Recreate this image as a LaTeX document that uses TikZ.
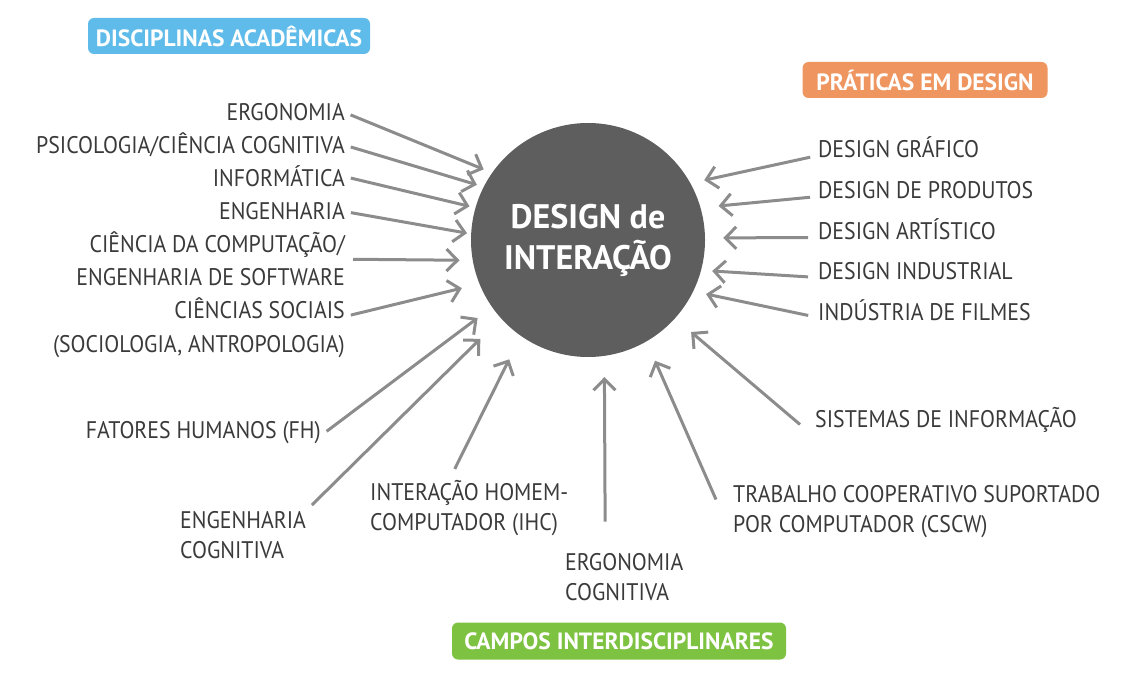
\documentclass[tikz,border=0pt]{standalone}
\usepackage{fontspec}
\setmainfont{PT Sans}[FakeStretch=0.91]
\newfontfamily\tagfont{PT Sans}
\usepackage{tikz}
\usetikzlibrary{arrows.meta,calc}
\definecolor{txtgray}{HTML}{3A3A3A}
\definecolor{arrowgray}{HTML}{8C8C8C}
\definecolor{dsggray}{HTML}{5E5E5E}
\definecolor{tagblue}{HTML}{5FBBE9}
\definecolor{tagorange}{HTML}{EF9660}
\definecolor{taggreen}{HTML}{7EC241}

\begin{document}
\begin{tikzpicture}[
      x=1pt, y=-1pt,
      lbl/.style={inner sep=0pt, text=txtgray, font=\fontsize{24}{30}\selectfont},
      lblr/.style={lbl, anchor=base east, align=right},
      lbll/.style={lbl, anchor=base west, align=left},
      tag/.style={rounded corners=6pt, text=white, font=\tagfont\bfseries\fontsize{23.5}{24}\selectfont, minimum height=36pt, inner sep=0pt},
      arrow/.style={draw=arrowgray, line width=3pt, -{Straight Barb[length=11pt,width=22pt]}},
    ]
    \useasboundingbox (0,0) rectangle (1126,684);
    \node [circle, fill=dsggray, minimum size=234pt, inner sep=0pt, text=white, align=center, font=\tagfont\bfseries\fontsize{34}{41}\selectfont] (dsg) at (588,240) {DESIGN de\\INTERAÇÃO};
    \node [tag, fill=tagblue, minimum width=282pt] (acad) at (229,36) {DISCIPLINAS ACADÊMICAS};
    \node [tag, fill=tagorange, minimum width=245pt] (prat) at (925,80) {PRÁTICAS EM DESIGN};
    \node [tag, fill=taggreen, minimum width=334pt, minimum height=37pt] (campos) at (619,641) {CAMPOS INTERDISCIPLINARES};

    \node [lblr] (ergo) at (345,121) {ERGONOMIA};
    \node [lblr] (psico) at (345,154) {PSICOLOGIA/CIÊNCIA COGNITIVA};
    \node [lblr] (info) at (345,187) {INFORMÁTICA};
    \node [lblr] (eng) at (345,220) {ENGENHARIA};
    \node [lblr, font=\fontsize{24}{33}\selectfont] (cc) at (345,286) {CIÊNCIA DA COMPUTAÇÃO/\\ENGENHARIA DE SOFTWARE};
    \node [lblr, font=\fontsize{24}{33}\selectfont] (soc) at (345,352) {CIÊNCIAS SOCIAIS\\(SOCIOLOGIA, ANTROPOLOGIA)};
    \node [lblr] (fh) at (321,438) {FATORES HUMANOS (FH)};
    \node [lbll] (ec) at (180,558) {ENGENHARIA\\COGNITIVA};
    \node [lbll] (ihc) at (370,530) {INTERAÇÃO HOMEM-\\COMPUTADOR (IHC)};
    \node [lbll] (ergc) at (565,600) {ERGONOMIA\\COGNITIVA};
    \node [lbll] (cscw) at (733,532) {TRABALHO COOPERATIVO SUPORTADO\\POR COMPUTADOR (CSCW)};
    \node [lbll] (si) at (815,427) {SISTEMAS DE INFORMAÇÃO};
    \node [lbll] (grafico) at (818,158) {DESIGN GRÁFICO};
    \node [lbll] (produtos) at (818,199) {DESIGN DE PRODUTOS};
    \node [lbll] (artistico) at (818,240) {DESIGN ARTÍSTICO};
    \node [lbll] (industrial) at (818,280) {DESIGN INDUSTRIAL};
    \node [lbll] (filmes) at (818,320) {INDÚSTRIA DE FILMES};

    \draw [arrow, shorten <=6pt, shorten >=9pt] (ergo.east) -- (dsg.145);
    \draw [arrow, shorten <=6pt, shorten >=7pt] (psico.east) -- (dsg.153.6);
    \draw [arrow, shorten <=6pt, shorten >=6pt] (info.east) -- (dsg.164);
    \draw [arrow, shorten <=6pt, shorten >=4pt] (eng.east) -- (dsg.177);
    \draw [arrow, shorten <=8pt, shorten >=13pt] (cc.east) -- (dsg.190);
    \draw [arrow, shorten <=6pt, shorten >=18pt] ([yshift=33pt]soc.mid east) -- (dsg.202);
    \draw [arrow, shorten <=7pt, shorten >=18pt] (fh.mid east) -- (dsg.215);
    \draw [arrow, shorten <=8pt, shorten >=29pt] (ec.north east) -- (dsg.222);
    \draw [arrow, shorten <=12pt, shorten >=26pt] ($(ihc.north west)!0.4!(ihc.north east)$) -- (dsg.235);
    \draw [arrow, shorten <=31pt, shorten >=21pt] ($(ergc.north west)!0.34!(ergc.north east)$) -- (dsg.278);
    \draw [arrow, shorten >=21pt] ([xshift=-17pt,yshift=30pt]cscw.mid west) -- (dsg.300);
    \draw [arrow, shorten >=21pt] ([xshift=-15pt]si.mid west) -- (dsg.318);
    \draw [arrow, shorten <=8pt, shorten >=14pt] (grafico.mid west) -- (dsg.29);
    \draw [arrow, shorten <=8pt, shorten >=18pt] (produtos.mid west) -- (dsg.16);
    \draw [arrow, shorten <=10pt, shorten >=18pt] (artistico.mid west) -- (dsg.1);
    \draw [arrow, shorten <=10pt, shorten >=11pt] (industrial.mid west) -- (dsg.345.5);
    \draw [arrow, shorten <=10pt, shorten >=13pt] (filmes.mid west) -- (dsg.334);
  \end{tikzpicture}
\end{document}
